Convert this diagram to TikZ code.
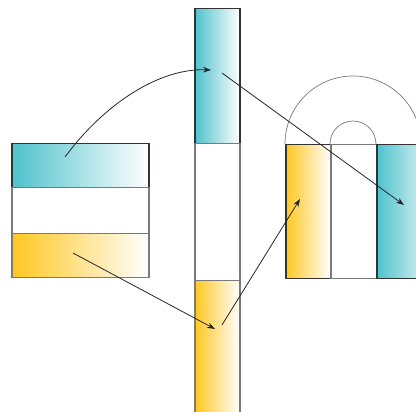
\documentclass[tikz,border=0pt]{standalone}
\usetikzlibrary{arrows.meta,positioning}
\definecolor{aqua}{HTML}{4FC2CC}
\definecolor{amber}{HTML}{FFC720}
\definecolor{darkedge}{HTML}{333333}
\definecolor{softedge}{HTML}{7A7A7A}
\definecolor{arcline}{HTML}{7A7A7A}
\tikzset{
  cell/.style={draw=#1,line width=1.5pt,inner sep=0pt,anchor=north west},
  cell/.default=softedge,
  aquacell/.style={cell=darkedge,left color=aqua,right color=white},
  ambercell/.style={cell=softedge,left color=amber,right color=white},
  blankcell/.style={cell=softedge,fill=white},
  flow/.style={-{Stealth[length=2.8mm,width=2mm]},line width=0.8pt,draw=black!85},
  halo/.style={draw=arcline,line width=0.7pt},
}

\begin{document}
\begin{tikzpicture}[x=1pt,y=-1pt]
  \useasboundingbox (0,0) rectangle (416,412);
  \clip (0,0) rectangle (416,412);
  % left block
  \node[aquacell,minimum width=137pt,minimum height=44pt] (lt) at (11,143) {};
  \node[blankcell,minimum width=137pt,minimum height=46pt] (lw) at (11,187) {};
  \node[ambercell,minimum width=137pt,minimum height=44pt] (ly) at (11,233) {};
  % middle column
  \node[aquacell,minimum width=45pt,minimum height=135pt] (mt) at (194,8) {};
  \node[blankcell,minimum width=45pt,minimum height=137pt] (mw) at (194,143) {};
  \node[ambercell,minimum width=45pt,minimum height=150pt] (my) at (194,280) {};
  % right group
  \node[cell=darkedge,left color=amber,right color=white,minimum width=45pt,minimum height=134pt] (ry) at (285,144) {};
  \node[blankcell,minimum width=46pt,minimum height=134pt] (rw) at (330,144) {};
  \node[aquacell,minimum width=64pt,minimum height=134pt] (rt) at (376,144) {};
  \draw[halo] (ry.north west) arc[start angle=180,end angle=0,radius=68pt];
  \draw[halo] (rw.north west) arc[start angle=180,end angle=0,radius=23pt];
  % arrow ends
  \coordinate (p1) at (65,157);
  \coordinate (q1) at (211,70);
  \coordinate (p2) at (222,73);
  \coordinate (q2) at (404,205);
  \coordinate (p3) at (73,253);
  \coordinate (q3) at (215,329);
  \coordinate (p4) at (222,325);
  \coordinate (q4) at (300,199);
  \draw[flow] (p1) .. controls (105,103) and (160,68) .. (q1);
  \draw[flow] (p2) -- (q2);
  \draw[flow] (p3) -- (q3);
  \draw[flow] (p4) -- (q4);
\end{tikzpicture}
\end{document}
